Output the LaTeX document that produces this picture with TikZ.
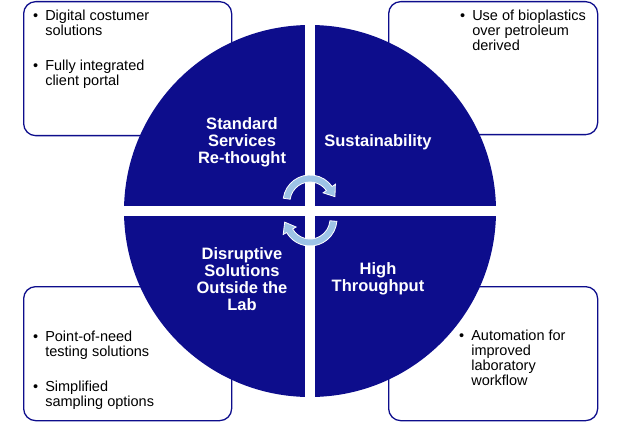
\documentclass[tikz,border=0pt]{standalone}
\usepackage{fontspec}
\setmainfont{Liberation Sans}
\definecolor{navy}{RGB}{13,13,140}
\definecolor{lightblue}{RGB}{157,195,230}
\newcommand{\bitem}[1]{\begin{tabular}[t]{@{}l@{\hspace{7pt}}l@{}}\textbullet & #1\end{tabular}}

\begin{document}
\begin{tikzpicture}[x=1pt, y=-1pt,
    box/.style={draw=navy, line width=1.3pt, rounded corners=12pt, fill=white, anchor=north west, inner sep=0pt},
    item/.style={font=\fontsize{14.5}{15}\selectfont, anchor=base west, inner sep=0pt},
    qlabel/.style={text=white, font=\bfseries\fontsize{16.5}{17}\selectfont, align=center, inner sep=0pt},
    turn/.style={fill=lightblue, draw=white, line width=0.8pt}]
    \useasboundingbox (0,0) rectangle (620,422);

    % Boxes
    \node[box, minimum width=208pt, minimum height=134pt] (boxtl) at (23,1) {};
    \node[box, minimum width=209pt, minimum height=133pt] (boxtr) at (388,1) {};
    \node[box, minimum width=208pt, minimum height=134pt] (boxbl) at (23,286) {};
    \node[box, minimum width=209pt, minimum height=134pt] (boxbr) at (388,286) {};

    % Items
    \node[item] (tl1) at (33,20.7) {\bitem{Digital costumer\\ & solutions}};
    \node[item] (tl2) at (33,70.7) {\bitem{Fully integrated\\ & client portal}};
    \node[item] (tr1) at (460,20.7) {\bitem{Use of bioplastics\\ & over petroleum\\ & derived}};
    \node[item] (bl1) at (33,341) {\bitem{Point-of-need\\ & testing solutions}};
    \node[item] (bl2) at (33,391) {\bitem{Simplified\\ & sampling options}};
    \node[item] (br1) at (459,340) {\bitem{Automation for\\ & improved\\ & laboratory\\ & workflow}};

    % Quadrants
    \coordinate (c) at (310,211);
    \begin{scope}
        \clip (c) circle[radius=186];
        \fill[navy] (124,25) rectangle (305,206);
        \fill[navy] (315,25) rectangle (496,206);
        \fill[navy] (124,216) rectangle (305,397);
        \fill[navy] (315,216) rectangle (496,397);
    \end{scope}

    % Labels
    \node[qlabel] (ss) at (242,142) {Standard\\Services\\Re-thought};
    \node[qlabel] (sus) at (378,142) {Sustainability};
    \node[qlabel] (dis) at (242,279) {Disruptive\\Solutions\\Outside the\\Lab};
    \node[qlabel] (ht) at (378,279) {High\\Throughput};

    % Arrows
    \begin{scope}[shift={(310,202)}]
        \filldraw[turn] (188:27) arc[start angle=188, end angle=325, radius=27]
            -- (325:31) -- (348:25.5) -- (325:16) -- (325:20)
            arc[start angle=325, end angle=188, radius=20] -- cycle;
    \end{scope}
    \begin{scope}[shift={(310,219)}]
        \filldraw[turn] (5:27) arc[start angle=5, end angle=150, radius=27]
            -- (150:31) -- (173:25.5) -- (150:16) -- (150:20)
            arc[start angle=150, end angle=5, radius=20] -- cycle;
    \end{scope}
\end{tikzpicture}
\end{document}
